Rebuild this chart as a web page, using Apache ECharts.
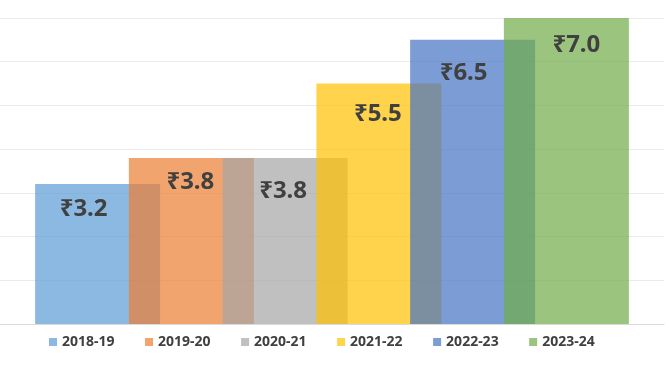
<!DOCTYPE html>
<html>
<head>
<meta charset="utf-8">
<script src="https://cdn.jsdelivr.net/npm/echarts@6/dist/echarts.min.js"></script>
<style>
html,body{margin:0;padding:0;background:#fff;}
#chart{width:669px;height:372px;}
</style>
</head>
<body>
<div id="chart"></div>
<script>
// Data
var years = ['2018-19', '2019-20', '2020-21', '2021-22', '2022-23', '2023-24'];
var values = [3.2, 3.8, 3.8, 5.5, 6.5, 7.0];
var yTicks = [0, 1, 2, 3, 4, 5, 6, 7];

// Styles (Office palette at 70% opacity)
var colors = ['rgba(91,155,213,0.7)', 'rgba(237,125,49,0.7)', 'rgba(165,165,165,0.7)',
              'rgba(255,192,0,0.7)', 'rgba(68,114,196,0.7)', 'rgba(112,173,71,0.7)'];
var labelOffsets = [[-14, 13], [-1, 12], [-2, 21], [-1, 19], [-9, 21], [10, 15]];

var chart = echarts.init(document.getElementById('chart'));
var series = years.map(function (y, i) {
  return {
    name: y,
    type: 'bar',
    data: [values[i]],
    barWidth: 125,
    barGap: '-25%',
    itemStyle: { color: colors[i] },
    label: {
      show: true,
      position: 'insideTop',
      distance: 0,
      offset: labelOffsets[i],
      formatter: function (p) { return '\u20B9' + p.value.toFixed(1); },
      fontFamily: '"Noto Sans", "DejaVu Sans", sans-serif',
      fontWeight: 'bold',
      fontSize: 24,
      color: '#404040'
    },
    emphasis: { disabled: true }
  };
});

chart.setOption({
  animation: false,
  color: colors,
  grid: { left: 0, right: 5, top: 18, bottom: 48 },
  legend: {
    data: years,
    left: 44,
    top: 330,
    icon: 'rect',
    itemWidth: 8,
    itemHeight: 8,
    itemGap: 30.5,
    textStyle: {
      fontFamily: '"Noto Sans", "DejaVu Sans", sans-serif',
      fontWeight: 'bold',
      fontSize: 14,
      color: '#404040'
    }
  },
  xAxis: {
    type: 'category',
    data: [''],
    axisLine: { show: true, lineStyle: { color: '#d9d9d9', width: 1 } },
    axisTick: { show: false },
    axisLabel: { show: false }
  },
  yAxis: {
    type: 'value',
    min: yTicks[0],
    max: yTicks[yTicks.length - 1],
    interval: 1,
    axisLine: { show: false },
    axisTick: { show: false },
    axisLabel: { show: false },
    splitLine: { lineStyle: { color: '#ebebeb', width: 1 } }
  },
  series: series
});
</script>
</body>
</html>
